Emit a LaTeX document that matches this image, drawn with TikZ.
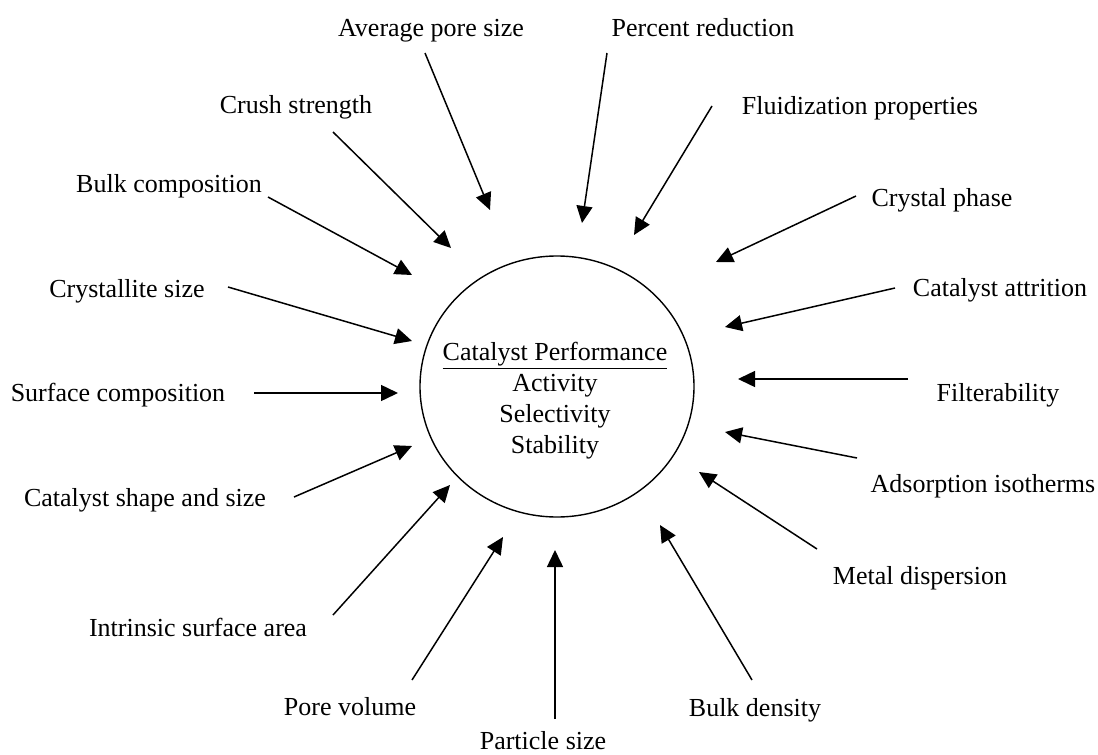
\documentclass[tikz,border=0pt]{standalone}
\usepackage{fontspec}
\setmainfont{Liberation Serif}
\usetikzlibrary{arrows.meta,shapes.geometric}

\begin{document}
\begin{tikzpicture}[x=1pt,y=-1pt,
  factor/.style={anchor=base,inner sep=0pt,font=\fontsize{26}{31}\selectfont},
  feed/.style={line width=1.5pt,-{Triangle[length=17pt,width=16pt]}}]
\useasboundingbox (0,0) rectangle (1098,755);
% centre
\node[ellipse,draw,line width=1.4pt,minimum width=274pt,minimum height=261pt,inner sep=0pt] (perf) at (557,386.5) {};
\node[align=center,inner sep=0pt,font=\fontsize{26}{31}\selectfont] (perftext) at (555,401)
  {\underline{Catalyst Performance}\\Activity\\Selectivity\\Stability};
% factors: name/text/label x/label y/start x/start y/tip x/tip y
\foreach \nm/\tx/\lx/\ly/\sx/\sy/\ex/\ey in {
  avg/Average pore size/431/36/425/53/490/210,
  pct/Percent reduction/703/36/607/53/582/223,
  crush/Crush strength/296/113/333/132/451/248,
  fluid/Fluidization properties/860/114/712/106/634/235,
  bulkc/Bulk composition/169/192/268/197/412/275,
  cphase/Crystal phase/942/206/856/196/716/262,
  cryst/Crystallite size/127/297/228/287/412/341,
  attr/Catalyst attrition/1000/296/895/288/725/327,
  surf/Surface composition/118/401/254/393/398/393,
  filt/Filterability/998/401/908/379/738/379,
  shape/Catalyst shape and size/145/506/294/497/412/446,
  ads/Adsorption isotherms/983/492/857/458/725/432,
  isa/Intrinsic surface area/198/636/333/615/450/485,
  metal/Metal dispersion/920/584/817/549/699/472,
  porev/Pore volume/350/715/412/680/503/537,
  bulkd/Bulk density/755/716/752/680/660/525,
  part/Particle size/543/749/555/719/555/550}{
  \node[factor] (\nm) at (\lx,\ly) {\tx};
  \coordinate (\nm-s) at (\sx,\sy);
  \coordinate (\nm-e) at (\ex,\ey);
  \draw[feed] (\nm-s) -- (\nm-e);
}
\end{tikzpicture}
\end{document}
